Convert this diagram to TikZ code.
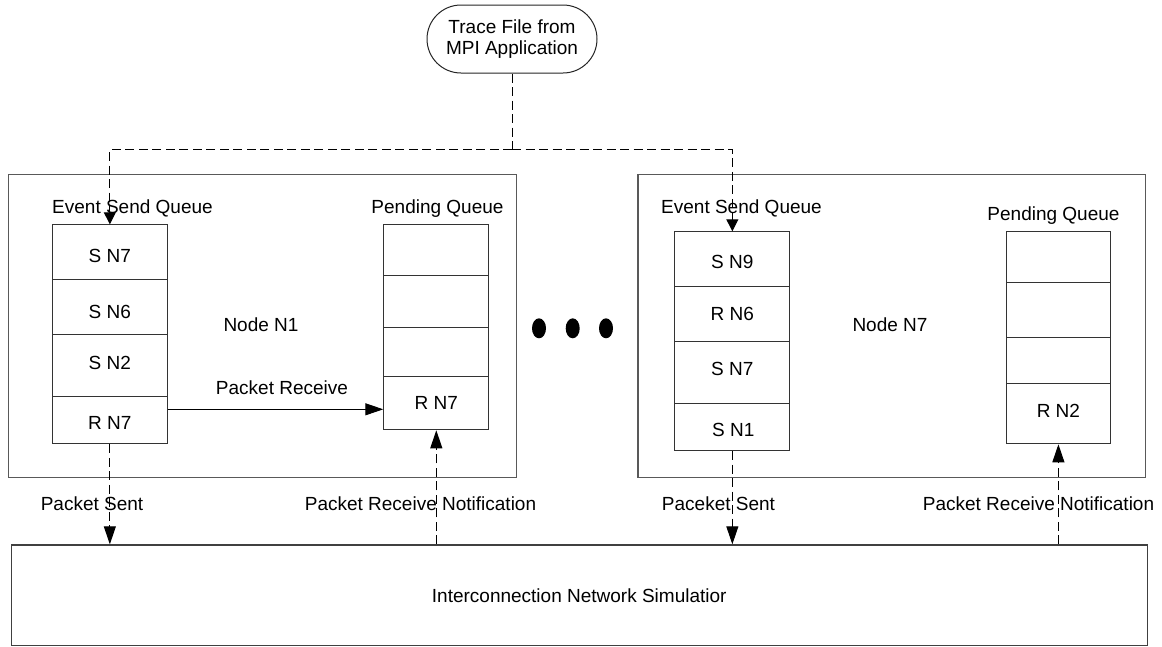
\documentclass[tikz,border=0pt]{standalone}
\usepackage{fontspec}
\setmainfont{Liberation Sans}
\usetikzlibrary{arrows.meta,shapes.geometric}
\begin{document}
\begin{tikzpicture}[x=1pt,y=-1pt,
  every node/.style={font=\fontsize{19}{21.7}\selectfont, inner sep=0pt},
  lbl/.style={text height=13.6pt, text depth=0pt},
  cellbox/.style={draw=black!80, line width=1pt, rectangle, anchor=north west, text height=13.6pt, text depth=0pt},
  nodebox/.style={draw=black!65, line width=1.3pt, rectangle, anchor=north west},
  dsh/.style={dash pattern=on 9pt off 4.5pt, line width=1pt},
  tipL/.style={-{Triangle[length=18pt,width=12pt]}},
  tipS/.style={-{Triangle[length=12pt,width=12pt]}},
  dotn/.style={ellipse, fill=black, minimum width=14pt, minimum height=20pt}]
\fill[white] (0,0) rectangle (1162,646);
\useasboundingbox (0,0) rectangle (1162,646);

% source
\node[draw=black!85, line width=1pt, rounded corners=34pt, minimum width=170pt, minimum height=68pt, align=center] (trace) at (512,39) {Trace File from\\MPI Application};

% node boxes
\node[nodebox, minimum width=507.8pt, minimum height=302.7pt] (n1) at (7.7,174) {};
\node[nodebox, minimum width=507.2pt, minimum height=302.7pt] (n7) at (637.3,174) {};
\node[nodebox, draw=black!75, minimum width=1135.8pt, minimum height=100.5pt] (net) at (10.7,544.3) {Interconnection Network Simulatior};

% left event send queue
\node[cellbox, minimum width=114.7pt, minimum height=55pt, text height=20pt] (lq1) at (52,224.3) {S N7};
\node[cellbox, minimum width=114.7pt, minimum height=54.4pt, text height=22pt] (lq2) at (52,279.3) {S N6};
\node[cellbox, minimum width=114.7pt, minimum height=62.6pt, text depth=6.6pt] (lq3) at (52,333.7) {S N2};
\node[cellbox, minimum width=114.7pt, minimum height=47pt, text height=17.4pt] (lq4) at (52,396.3) {R N7};

% left pending queue
\node[cellbox, minimum width=105pt, minimum height=50.7pt] (lp1) at (383.3,224.3) {};
\node[cellbox, minimum width=105pt, minimum height=51.7pt] (lp2) at (383.3,275) {};
\node[cellbox, minimum width=105pt, minimum height=49.6pt] (lp3) at (383.3,326.7) {};
\node[cellbox, minimum width=105pt, minimum height=53pt, text depth=2pt] (lp4) at (383.3,376.3) {R N7};

% right event send queue
\node[cellbox, minimum width=115.1pt, minimum height=55pt, text height=18pt] (rq1) at (674.3,231.3) {S N9};
\node[cellbox, minimum width=115.1pt, minimum height=54.7pt] (rq2) at (674.3,286.3) {R N6};
\node[cellbox, minimum width=115.1pt, minimum height=62.3pt, text depth=7.7pt] (rq3) at (674.3,341) {S N7};
\node[cellbox, minimum width=115.1pt, minimum height=46.7pt, text height=18.9pt, xshift=0pt] (rq4) at (674.3,403.3) {\hspace*{2pt}S N1};

% right pending queue
\node[cellbox, minimum width=104.2pt, minimum height=50.7pt] (rp1) at (1005.8,231.3) {};
\node[cellbox, minimum width=104.2pt, minimum height=55.3pt] (rp2) at (1005.8,282) {};
\node[cellbox, minimum width=104.2pt, minimum height=46pt] (rp3) at (1005.8,337.3) {};
\node[cellbox, minimum width=104.2pt, minimum height=60pt, text depth=6.6pt] (rp4) at (1005.8,383.3) {R N2};

% labels
\node[lbl] (lesq) at (132.5,207) {Event Send Queue};
\node[lbl] (lpq) at (437.5,206.7) {Pending Queue};
\node[lbl] (resq) at (741.5,206.7) {Event Send Queue};
\node[lbl] (rpq) at (1053.5,214) {Pending Queue};
\node[lbl] (ln1) at (261,325) {Node N1};
\node[lbl] (ln7) at (890,324.3) {Node N7};
\node[lbl] (lpr) at (282,387.7) {Packet Receive};
\node[lbl] (lps) at (92,503.3) {Packet Sent};
\node[lbl] (lprn) at (420.5,503.3) {Packet Receive Notification};
\node[lbl] (rps) at (718.5,504) {Paceket Sent};
\node[lbl] (rprn) at (1038.5,503.3) {Packet Receive Notification};

% dots
\node[dotn] (d1) at (539,328.3) {};
\node[dotn] (d2) at (572.7,328.3) {};
\node[dotn] (d3) at (606,328.3) {};

% connectors
\coordinate (j) at (trace.south |- 0,149.3);
\draw[dsh] (trace.south) -- (j);
\draw[dsh,tipS] (j) -| (lq1.north);
\draw[dsh,tipS] (j) -| (rq1.north);
\draw[line width=1pt,tipL] (lq4.east |- 0,409.3) -- (lp4.west |- 0,409.3);
\draw[dsh,tipL] (lq4.south) -- (lq4.south |- net.north);
\draw[dsh,tipL] (lp4.south |- net.north) -- (lp4.south);
\draw[dsh,tipL] (rq4.south) -- (rq4.south |- net.north);
\draw[dsh,tipL] (rp4.south |- net.north) -- (rp4.south);
\end{tikzpicture}
\end{document}
